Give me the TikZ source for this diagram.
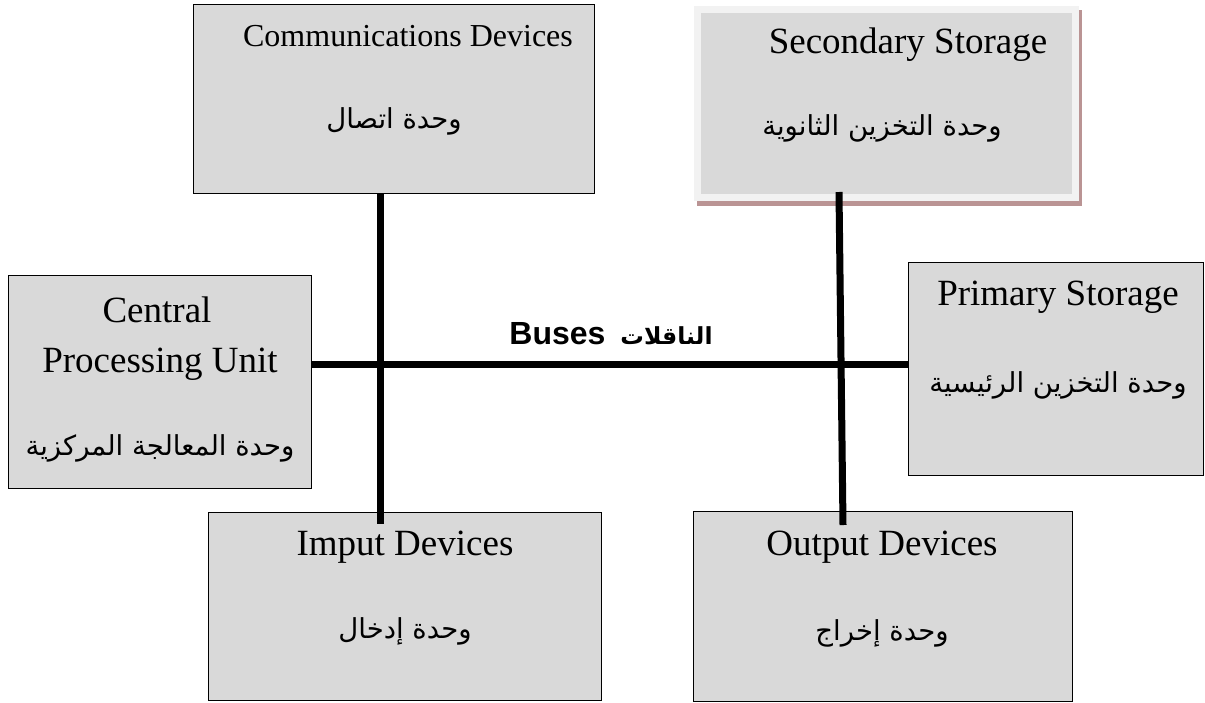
\documentclass[tikz,border=0pt]{standalone}
\usepackage{fontspec}
\setmainfont{Liberation Serif}
\newfontfamily\arabicfont[Script=Arabic]{DejaVu Sans}
\newfontfamily\sansfam{Liberation Sans}
\TeXXeTstate=1
\usetikzlibrary{backgrounds}
\definecolor{boxgray}{HTML}{D9D9D9}
\definecolor{lightborder}{HTML}{F2F2F2}
\definecolor{shadowc}{RGB}{186,148,148}
\begin{document}
\begin{tikzpicture}[x=1pt,y=-1pt,
  box/.style={draw=black, line width=1.2pt, fill=boxgray, inner sep=0pt, anchor=north west},
  bus/.style={line width=7pt, draw=black},
  en/.style={font=\fontsize{37}{40}\selectfont, anchor=base, inner sep=0pt},
  ensmall/.style={font=\fontsize{32}{36}\selectfont, anchor=base, inner sep=0pt},
  ar/.style={font=\arabicfont\fontsize{27.5}{32}\selectfont, anchor=base, inner sep=0pt}]
\useasboundingbox (0,0) rectangle (1205,702);

% boxes
\node[box, minimum width=401pt, minimum height=189pt] (comm) at (193,4) {};
\node[draw=lightborder, line width=7pt, fill=boxgray, inner sep=0pt, anchor=north west,
      minimum width=378pt, minimum height=188pt] (sec) at (693.5,5.5) {};
\begin{scope}[on background layer]
  \fill[white] (0,0) rectangle (1205,702);
  \fill[shadowc] ([shift={(3pt,-4pt)}]sec.north west) rectangle ([shift={(3.5pt,-5pt)}]sec.south east);
\end{scope}
\node[box, minimum width=303pt, minimum height=213pt] (cpu) at (8,275) {};
\node[box, minimum width=295pt, minimum height=213pt] (prim) at (908,262) {};
\node[box, minimum width=393pt, minimum height=188pt] (imput) at (208,512) {};
\node[box, minimum width=379pt, minimum height=190pt] (output) at (693,511) {};

% bus connectors
\coordinate (v1x) at (380.5,0);
\coordinate (v1e) at (380.5,524);
\coordinate (v2t) at (839,192);
\coordinate (v2e) at (843,525);
\coordinate (hy) at (0,364);
\draw[bus] (comm.south -| v1x) -- (v1e);
\draw[bus] (v2t) -- (v2e);
\draw[bus] (cpu.east |- hy) -- (prim.west |- hy);

% texts
\node[ensmall] (commen) at (408,46) {Communications Devices};
\node[ar] (commar) at (394,128) {\beginR وحدة اتصال\endR};
\node[en] (secen) at (908,53) {Secondary Storage};
\node[ar] (secar) at (882,135) {\beginR وحدة التخزين الثانوية\endR};
\node[en] (cpuen1) at (157,322) {Central};
\node[en] (cpuen2) at (160,372) {Processing Unit};
\node[ar] (cpuar) at (160,455) {\beginR وحدة المعالجة المركزية\endR};
\node[en] (primen) at (1058,305) {Primary Storage};
\node[ar] (primar) at (1058,392) {\beginR وحدة التخزين الرئيسية\endR};
\node[en] (imputen) at (405,555) {Imput Devices};
\node[ar] (imputar) at (405,638) {\beginR وحدة إدخال\endR};
\node[en] (outputen) at (882,555) {Output Devices};
\node[ar] (outputar) at (882,640) {\beginR وحدة إخراج\endR};
\node[anchor=base, inner sep=0pt] (buslbl) at (611,344)
  {{\sansfam\bfseries\fontsize{32}{36}\selectfont Buses}\kern15pt{\arabicfont\bfseries\fontsize{23.5}{30}\selectfont\beginR الناقلات\endR}};
\end{tikzpicture}
\end{document}
